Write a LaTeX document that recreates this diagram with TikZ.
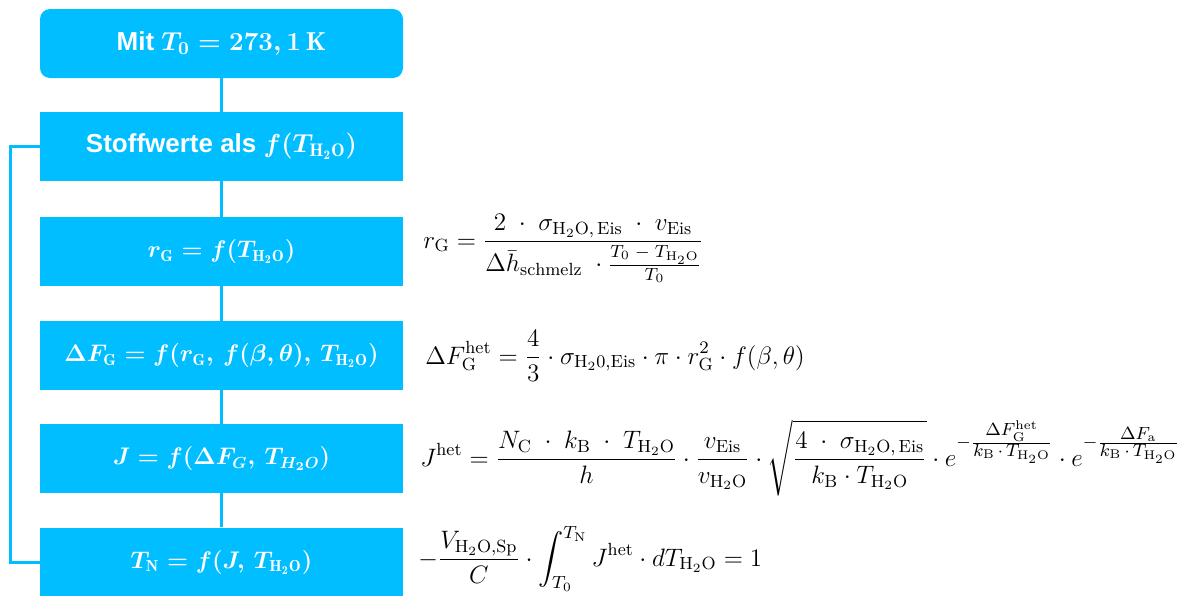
\RequirePackage{fix-cm}
\documentclass[tikz,border=0pt]{standalone}
\usepackage{amsmath,amssymb}
\usepackage{fontspec}
\setsansfont{Liberation Sans}
\definecolor{flowblue}{RGB}{0,190,255}

\begin{document}
\begin{tikzpicture}[x=0.5pt,y=-0.5pt,
    box/.style={fill=flowblue,text=white,minimum width=181.5pt,minimum height=34.5pt,inner sep=0pt,
        font=\sffamily\bfseries\boldmath\fontsize{13}{15}\selectfont},
    mathbox/.style={box,font=\bfseries\boldmath\fontsize{12}{14}\selectfont},
    link/.style={draw=flowblue,line width=1.5pt},
    formel/.style={anchor=base west,inner sep=0pt,font=\fontsize{12.6}{15}\selectfont}]
    \useasboundingbox (0,0) rectangle (1184,595);
    \node[box,rounded corners=5pt] (mit) at (221.5,43.5) {Mit $T_0 = 273,1\,\mathrm{K}$};
    \node[box] (stoff) at (221.5,146.5) {Stoffwerte als $f(T_{\mathrm{H_2O}})$};
    \node[mathbox] (rg) at (221.5,251.5) {$r_{\mathrm{G}} = f(T_{\mathrm{H_2O}})$};
    \node[mathbox] (dfg) at (221.5,355.5) {$\Delta F_{\mathrm{G}} = f(r_{\mathrm{G}},\, f(\beta,\theta),\, T_{\mathrm{H_2O}})$};
    \node[mathbox] (jn) at (221.5,458.5) {$J = f(\Delta F_G,\, T_{H_2O})$};
    \node[mathbox] (tn) at (221.5,562) {$T_{\mathrm{N}} = f(J,\, T_{\mathrm{H_2O}})$};
    \draw[link] (mit) -- (stoff);
    \draw[link] (stoff) -- (rg);
    \draw[link] (rg) -- (dfg);
    \draw[link] (dfg) -- (jn);
    \draw[link] (jn) -- (tn);
    \coordinate (back) at (10,146.5);
    \draw[link] (stoff.west) -- (back) |- (tn.west);
    \node[formel] (frg) at (423,248) {$\displaystyle r_{\mathrm{G}} = \frac{2 \;\cdot\; \sigma_{\mathrm{H_2O,\,Eis}} \;\cdot\; v_{\mathrm{Eis}}}{\Delta\bar{h}_{\mathrm{schmelz}} \;\cdot \frac{T_0 \;-\; T_{\mathrm{H_2O}}}{T_0}}$};
    \node[formel] (fdfg) at (425,364) {$\displaystyle \Delta F_{\mathrm{G}}^{\mathrm{het}} = \frac{4}{3} \cdot \sigma_{\mathrm{H_20,Eis}} \cdot \pi \cdot r_{\mathrm{G}}^2 \cdot f(\beta,\theta)$};
    \node[formel] (fjn) at (420,466) {$\displaystyle J^{\mathrm{het}} = \frac{N_{\mathrm{C}} \;\cdot\; k_{\mathrm{B}} \;\cdot\; T_{\mathrm{H_2O}}}{h} \cdot \frac{v_{\mathrm{Eis}}}{v_{\mathrm{H_2O}}} \cdot \sqrt{\frac{4 \;\cdot\; \sigma_{\mathrm{H_2O,\,Eis}}}{k_{\mathrm{B}} \cdot T_{\mathrm{H_2O}}}} \cdot e^{-\frac{\scriptstyle\Delta F_{\mathrm{G}}^{\mathrm{het}}}{\scriptstyle k_{\mathrm{B}} \,\cdot\, T_{\mathrm{H_2O}}}} \cdot e^{-\frac{\scriptstyle\Delta F_{\mathrm{a}}}{\scriptstyle k_{\mathrm{B}} \,\cdot\, T_{\mathrm{H_2O}}}}$};
    \node[formel] (ftn) at (418,566) {$\displaystyle -\frac{V_{\mathrm{H_2O,Sp}}}{C} \cdot \int_{T_0}^{T_{\mathrm{N}}} J^{\mathrm{het}} \cdot dT_{\mathrm{H_2O}} = 1$};
\end{tikzpicture}
\end{document}
